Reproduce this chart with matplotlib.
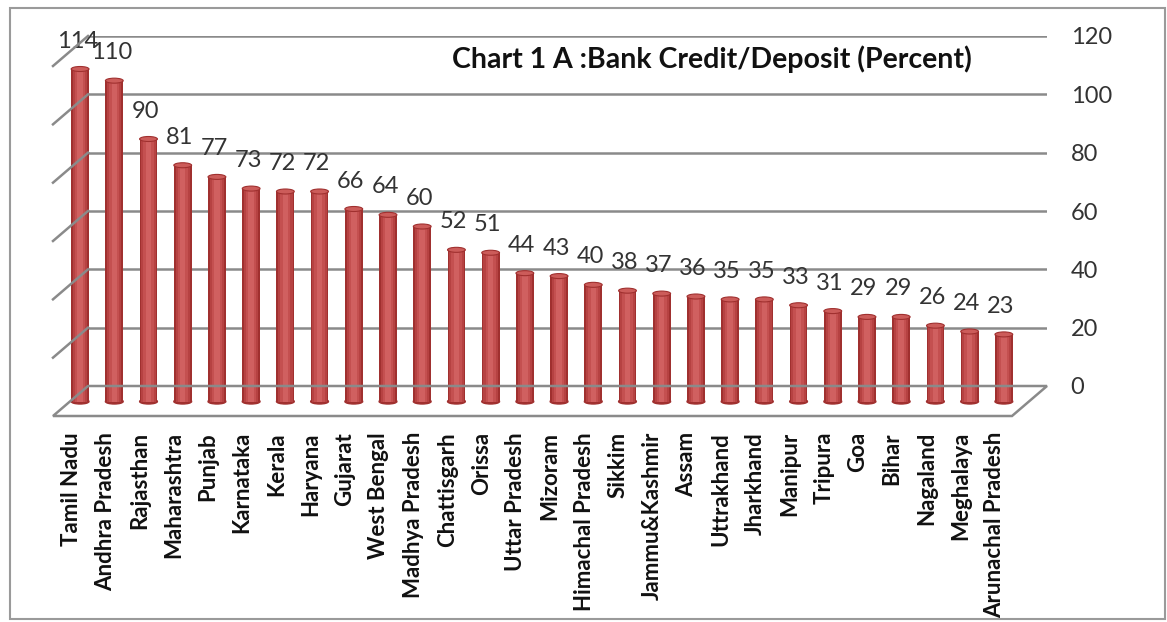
import matplotlib
matplotlib.use("Agg")
import matplotlib.pyplot as plt
from matplotlib.patches import Ellipse, Polygon, Rectangle
from matplotlib.lines import Line2D
from matplotlib.transforms import ScaledTranslation, IdentityTransform

states = ["Tamil Nadu", "Andhra Pradesh", "Rajasthan", "Maharashtra", "Punjab",
          "Karnataka", "Kerala", "Haryana", "Gujarat", "West Bengal",
          "Madhya Pradesh", "Chattisgarh", "Orissa", "Uttar Pradesh", "Mizoram",
          "Himachal Pradesh", "Sikkim", "Jammu&Kashmir", "Assam", "Uttrakhand",
          "Jharkhand", "Manipur", "Tripura", "Goa", "Bihar", "Nagaland",
          "Meghalaya", "Arunachal Pradesh"]
credit_deposit = [114, 110, 90, 81, 77, 73, 72, 72, 66, 64, 60, 52, 51, 44, 43,
                  40, 38, 37, 36, 35, 35, 33, 31, 29, 29, 26, 24, 23]
yticks = [0, 20, 40, 60, 80, 100, 120]
title = "Chart 1 A :Bank Credit/Deposit (Percent)"

DPI = 100
W, H = 1167, 622
plt.rcParams["font.family"] = ["Lato", "DejaVu Sans"]

fig = plt.figure(figsize=(W / DPI, H / DPI), dpi=DPI)
# back wall of the pseudo-3d box
ax = fig.add_axes([88 / W, 1 - 386 / H, (1047 - 88) / W, (386 - 36) / H])
ax.set_xlim(-0.28, 27.75)
ax.set_ylim(0, 120)
for s in ax.spines.values():
    s.set_visible(False)
ax.set_facecolor("none")
ax.set_xticks([])
ax.set_yticks(yticks)
ax.yaxis.tick_right()
ax.tick_params(axis="y", length=0, pad=17, labelsize=17, labelcolor="#333333")
for lab in ax.get_yticklabels():
    lab.set_horizontalalignment("left")

grid_c = "#8a8a8a"
for t in yticks:
    ax.axhline(t, color=grid_c, lw=1.8, zorder=0)

def shift(dx, dy):
    return ax.transData + ScaledTranslation(dx / DPI, dy / DPI, fig.dpi_scale_trans)

front = shift(-35, -30)   # front edge of the floor
mid = shift(-17.5, -15.5)  # depth where the cylinders stand

fig.canvas.draw()
x0, x1 = ax.get_xlim()

# left wall edges and floor outline
def to_px(tr, pt):
    return tr.transform(pt)

for t in yticks[1:]:
    a = to_px(ax.transData, (x0, t))
    b = to_px(front, (x0, t))
    fig.add_artist(Line2D([a[0], b[0]], [a[1], b[1]], color=grid_c, lw=1.8,
                          transform=IdentityTransform()))
floor = [to_px(ax.transData, (x0, 0)), to_px(ax.transData, (x1, 0)),
         to_px(front, (x1, 0)), to_px(front, (x0, 0))]
fig.add_artist(Polygon(floor, closed=True, fill=False, edgecolor=grid_c, lw=1.8,
                       transform=IdentityTransform(), zorder=1))

# cylinders: layered bars for shading plus elliptical caps
xs = list(range(len(states)))
layers = [(0.52, "#A0302F"), (0.42, "#B64242"), (0.30, "#C45050"), (0.16, "#D06060")]
for w, c in layers:
    ax.bar(xs, credit_deposit, width=w, color=c, lw=0, transform=mid,
           zorder=3, clip_on=False)
cap_h = 5 / (350 / 120)
for i, v in zip(xs, credit_deposit):
    ax.add_patch(Ellipse((i, 0), 0.52, cap_h, color="#A0302F", transform=mid,
                         zorder=2, clip_on=False))
    ax.add_patch(Ellipse((i, v), 0.52, cap_h, facecolor="#CC5C5A",
                         edgecolor="#A0302F", lw=0.8, transform=mid, zorder=4,
                         clip_on=False))
    ax.annotate(str(v), (i, v), xycoords=mid, xytext=(-3, 28),
                textcoords="offset pixels", ha="center", va="center",
                fontsize=17, color="#333333", zorder=5, annotation_clip=False)

# category names under the floor
lab_tr = shift(-26.5, -46)
for i, name in zip(xs, states):
    ax.text(i, 0, name, transform=lab_tr, rotation=90, ha="center", va="top",
            fontsize=16, fontweight="bold", color="#111111", clip_on=False)

fig.text(452 / W, 1 - 59 / H, title, ha="left", va="center",
         fontsize=20.5, fontweight="bold", color="#111111")

# outer chart border
fig.add_artist(Rectangle((10 / W, 1 - 619 / H), 1155 / W, 611 / H, fill=False,
                         edgecolor="#9a9a9a", lw=1.5, transform=fig.transFigure))

fig.savefig("out.png", dpi=DPI)
